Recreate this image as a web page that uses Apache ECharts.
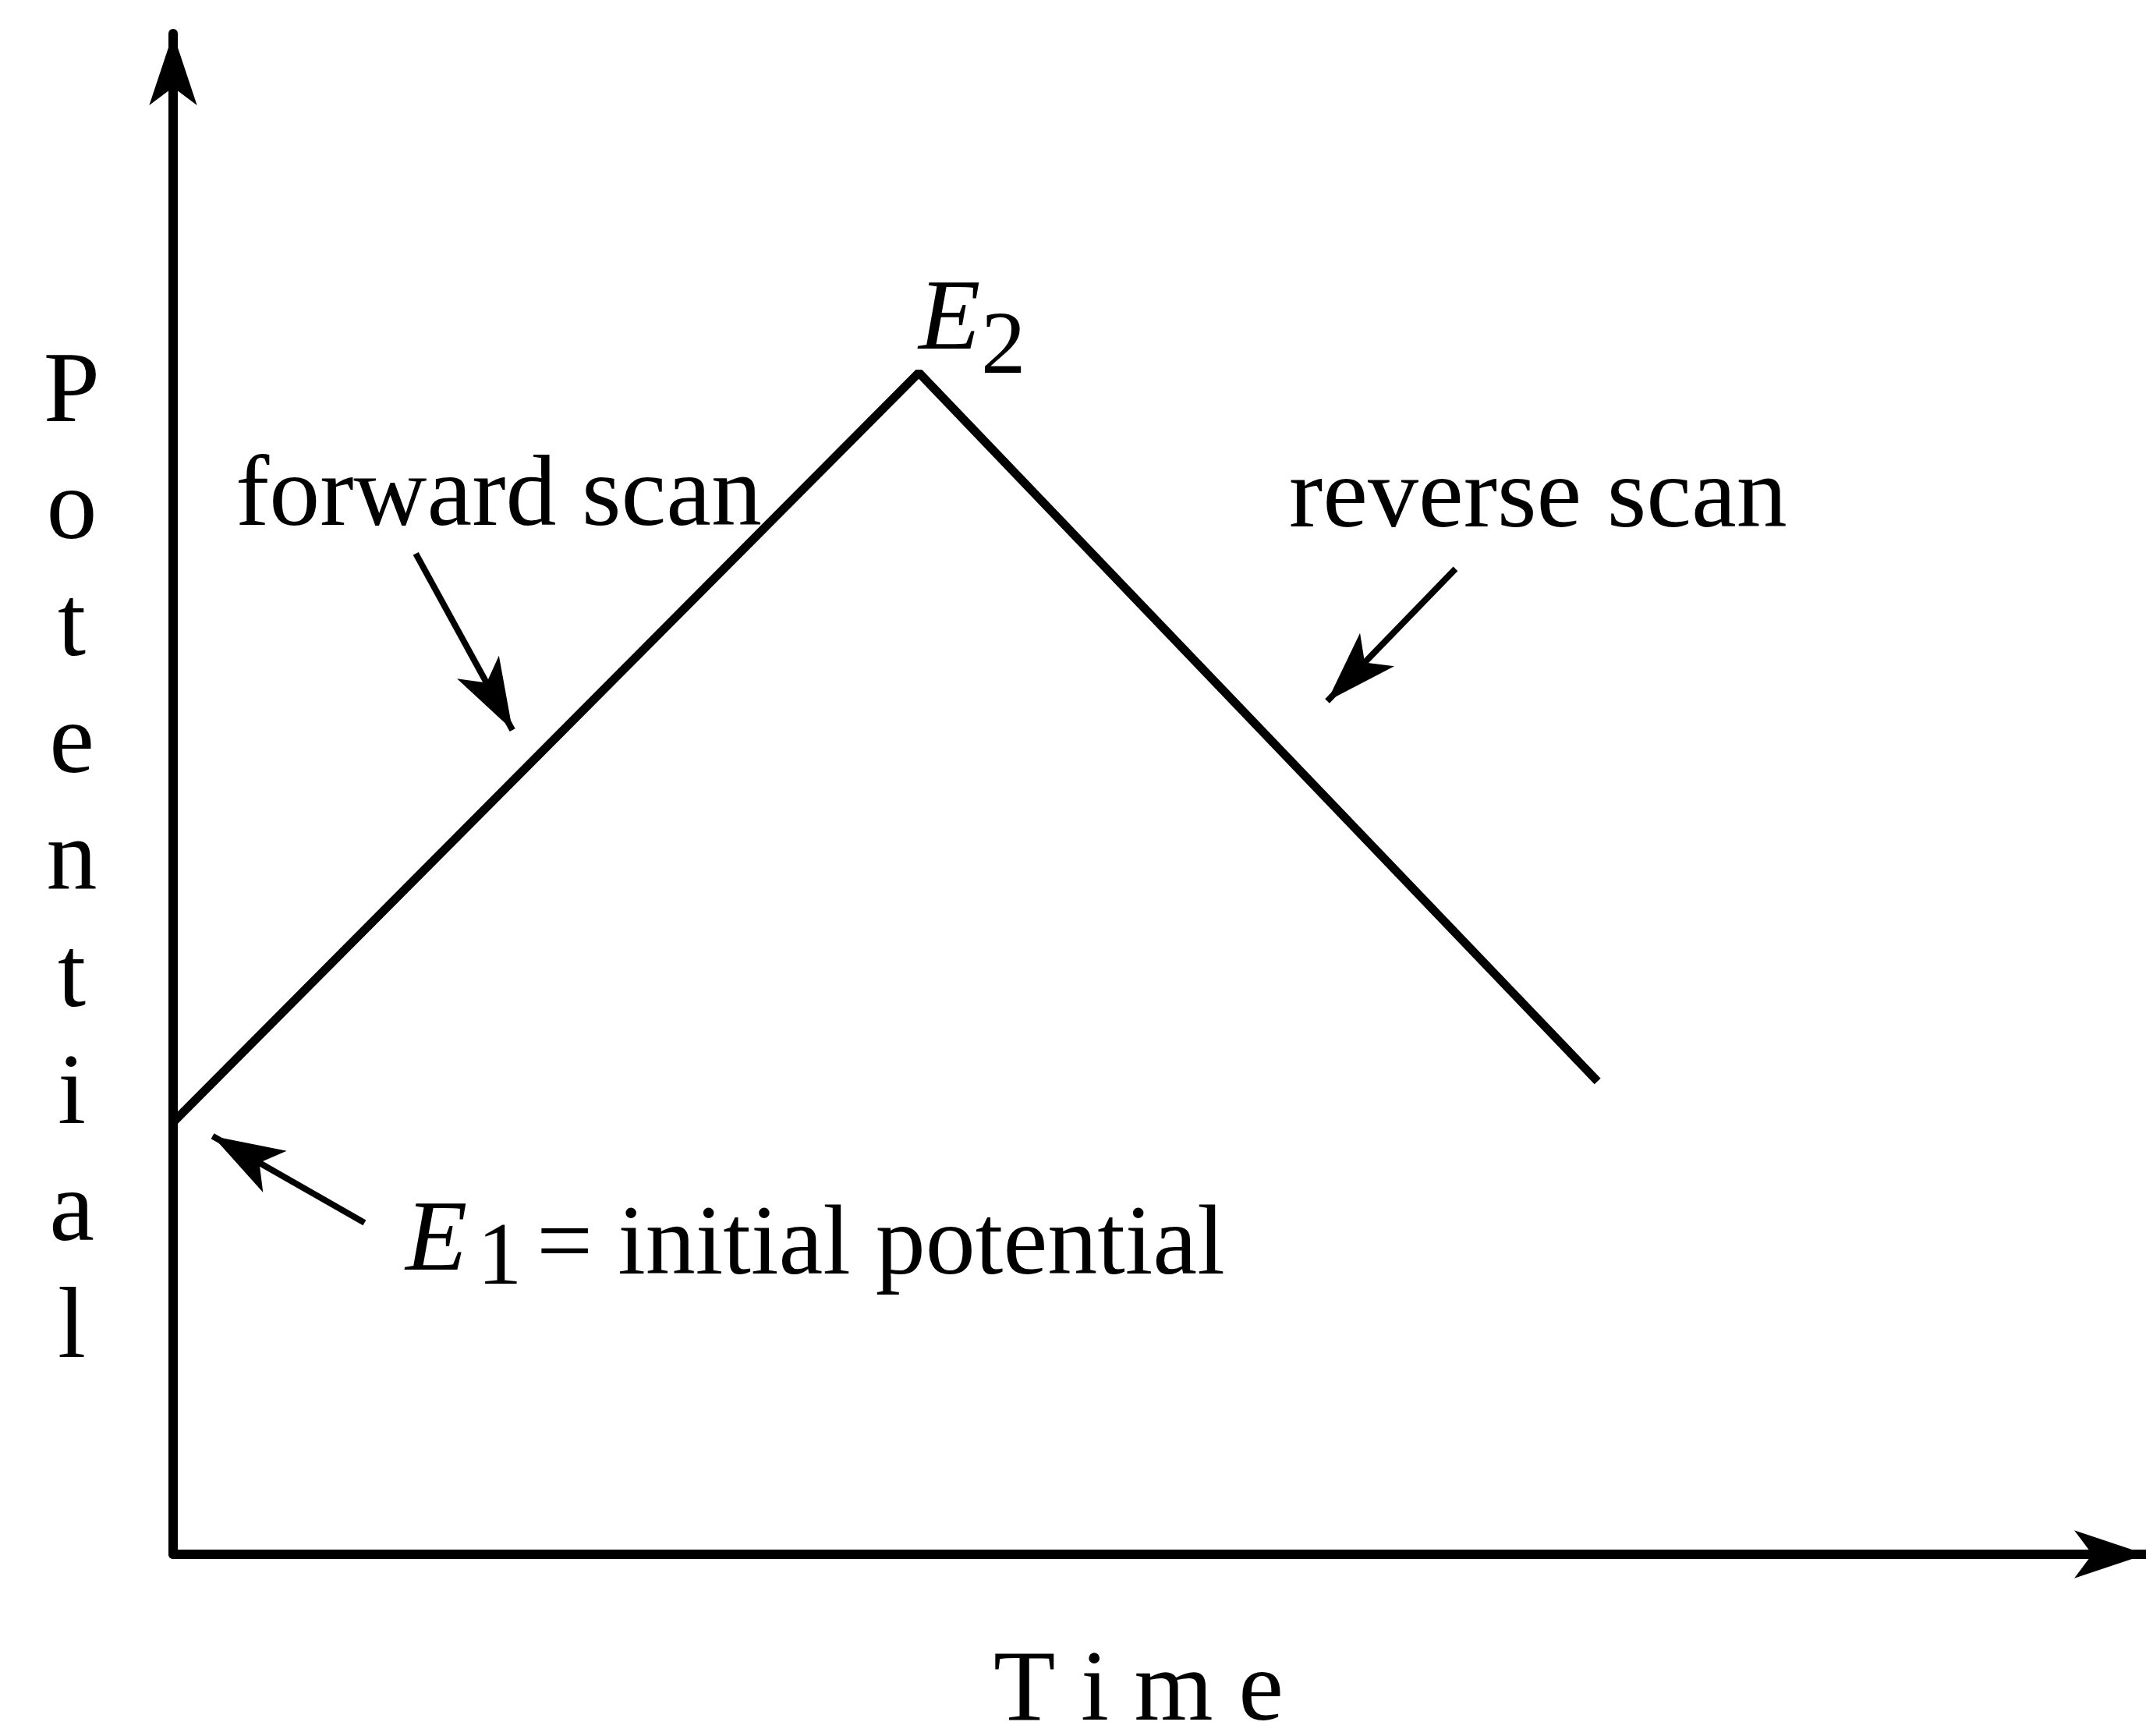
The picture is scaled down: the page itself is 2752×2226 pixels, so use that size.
<!DOCTYPE html>
<html>
<head>
<meta charset="utf-8">
<title>Cyclic voltammetry potential sweep</title>
<script src="https://cdn.jsdelivr.net/npm/echarts@6/dist/echarts.min.js"></script>
<style>
  html, body { margin: 0; padding: 0; background: #fff; }
  #chart { width: 2752px; height: 2226px; }
</style>
</head>
<body>
<div id="chart"></div>
<script>
  // 三角波扫描：时间 / 电位 (任意单位)
  var scanTime = [0, 3.78, 7.22];
  var scanPotential = [2.84, 7.77, 3.11];

  // 注释箭头 [尾部, 箭尖]（数据坐标）
  var forwardArrow = [[1.23, 6.58], [1.72, 5.42]];
  var reverseArrow = [[6.50, 6.48], [5.85, 5.61]];
  var initialArrow = [[0.97, 2.18], [0.20, 2.75]];

  var xLabel = 'T i m e';
  var yLabelLetters = ['P', 'o', 't', 'e', 'n', 't', 'i', 'a', 'l'];

  var FONT = "'Liberation Serif', 'Times New Roman', serif";

  var seriesData = [];
  scanTime.forEach(function (t, i) {
    seriesData.push([t, scanPotential[i]]);
  });

  function arrowLine(a) {
    return [{ coord: a[0], symbol: 'none' }, { coord: a[1], symbol: 'arrow' }];
  }

  function txt(x, y, text, size, extra) {
    var style = {
      text: text,
      font: size + 'px ' + FONT,
      fill: '#000',
      align: 'left',
      verticalAlign: 'middle'
    };
    if (extra) {
      for (var k in extra) style[k] = extra[k];
    }
    return { type: 'text', x: x, y: y, silent: true, style: style };
  }

  var axisCommon = {
    type: 'value',
    min: 0,
    max: 10,
    axisLine: {
      show: true,
      symbol: ['none', 'arrow'],
      symbolSize: [46, 92],
      lineStyle: { color: '#000', width: 12 }
    },
    axisTick: { show: false },
    axisLabel: { show: false },
    splitLine: { show: false }
  };

  var option = {
    backgroundColor: '#fff',
    animation: false,
    grid: { left: 222, right: -10, top: 43, bottom: 233 },
    xAxis: axisCommon,
    yAxis: axisCommon,
    series: [
      {
        type: 'line',
        data: seriesData,
        symbol: 'none',
        lineStyle: { color: '#000', width: 11 },
        markLine: {
          silent: true,
          symbolSize: [46, 92],
          label: { show: false },
          lineStyle: { color: '#000', width: 8, type: 'solid' },
          data: [arrowLine(forwardArrow), arrowLine(reverseArrow), arrowLine(initialArrow)]
        }
      }
    ],
    graphic: [
      txt(302, 639, 'forward scan', 130),
      txt(1653, 641, 'reverse scan', 130),
      // E2
      txt(1178, 413, 'E', 130, { font: 'italic 130px ' + FONT }),
      txt(1258, 448, '2', 115),
      // E1 = initial potential
      txt(520, 1594, 'E', 130, { font: 'italic 130px ' + FONT }),
      txt(612, 1616, '1', 115),
      txt(688, 1599, '= initial potential', 128),
      // 坐标轴标题
      txt(1460, 2171, xLabel, 130, { align: 'center' }),
      txt(92, 1106, yLabelLetters.join('\n'), 130, { align: 'center', lineHeight: 150 })
    ]
  };

  var chart = echarts.init(document.getElementById('chart'));
  chart.setOption(option);
  window.addEventListener('resize', function () {
    chart.resize();
  });
</script>
</body>
</html>
